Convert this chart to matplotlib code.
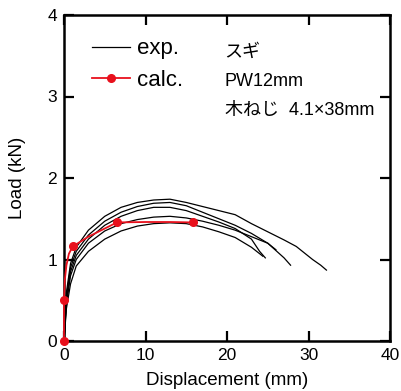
import matplotlib
matplotlib.use("Agg")
import matplotlib.pyplot as plt
from matplotlib.lines import Line2D

# Experimental curves (Displacement mm, Load kN)
exp1_x = [0, 0.3, 0.8, 1.5, 3, 5, 7, 9, 11, 13, 15, 17, 19, 21, 23, 25, 27, 28.5, 29.5, 30.5, 31.5, 32.2]
exp1_y = [0, 0.6, 0.95, 1.15, 1.36, 1.53, 1.64, 1.70, 1.73, 1.74, 1.70, 1.65, 1.60, 1.55, 1.44, 1.34, 1.24, 1.16, 1.08, 1.00, 0.93, 0.87]
exp2_x = [0, 0.3, 0.8, 1.5, 3, 5, 7, 9, 11, 13, 15, 17, 19, 21, 23, 25, 27, 27.8]
exp2_y = [0, 0.55, 0.9, 1.1, 1.3, 1.47, 1.58, 1.65, 1.69, 1.70, 1.66, 1.58, 1.50, 1.42, 1.32, 1.20, 1.02, 0.93]
exp3_x = [0, 0.3, 0.8, 1.5, 3, 5, 7, 9, 11, 13, 15, 17, 19, 21, 23, 24, 24.7]
exp3_y = [0, 0.5, 0.85, 1.05, 1.25, 1.42, 1.53, 1.60, 1.64, 1.64, 1.60, 1.53, 1.46, 1.38, 1.25, 1.10, 1.02]
exp4_x = [0, 0.3, 0.8, 1.5, 3, 5, 7, 9, 11, 13, 15, 17, 19, 21, 23, 25, 26]
exp4_y = [0, 0.45, 0.8, 1.0, 1.2, 1.35, 1.44, 1.49, 1.52, 1.53, 1.51, 1.47, 1.42, 1.36, 1.28, 1.20, 1.12]
exp5_x = [0, 0.3, 0.8, 1.5, 3, 5, 7, 9, 11, 13, 15, 17, 19, 21, 23, 24.4]
exp5_y = [0, 0.4, 0.7, 0.92, 1.1, 1.25, 1.35, 1.41, 1.44, 1.45, 1.44, 1.40, 1.34, 1.27, 1.15, 1.04]

# Calculated curve and its characteristic points
calc_line_x = [0, 0, 0.1, 0.3, 0.6, 1.07, 3, 6.5, 10, 13, 15.8]
calc_line_y = [0, 0.5, 0.75, 0.93, 1.07, 1.16, 1.28, 1.455, 1.46, 1.46, 1.455]
calc_pts_x = [0, 0, 1.07, 6.5, 15.8]
calc_pts_y = [0, 0.5, 1.16, 1.455, 1.455]

x_ticks = [0, 10, 20, 30, 40]
y_ticks = [0, 1, 2, 3, 4]
annotations = ["スギ", "PW12mm", "木ねじ  4.1×38mm"]

plt.rcParams['font.family'] = ['Liberation Sans', 'DejaVu Sans']

fig = plt.figure(figsize=(4.01, 3.91), dpi=100)
ax = fig.add_axes([64/401, 50/391, 326/401, 326/391])

for xs, ys in [(exp1_x, exp1_y), (exp2_x, exp2_y), (exp3_x, exp3_y), (exp4_x, exp4_y), (exp5_x, exp5_y)]:
    ax.plot(xs, ys, color='black', lw=0.9, clip_on=False, zorder=3)

ax.plot(calc_line_x, calc_line_y, color='#e8101c', lw=1.3, clip_on=False, zorder=4)
ax.plot(calc_pts_x, calc_pts_y, 'o', color='#e8101c', ms=5.5, clip_on=False, zorder=5)

ax.set_xlim(0, 40)
ax.set_ylim(0, 4)
ax.set_xticks(x_ticks)
ax.set_yticks(y_ticks)
ax.tick_params(direction='in', length=7, width=1.6, labelsize=12.5, top=True, right=True, pad=5)
for s in ax.spines.values():
    s.set_linewidth(1.8)

ax.set_xlabel('Displacement (mm)', fontsize=13.5)
ax.set_ylabel('Load (kN)', fontsize=13.5)
ax.xaxis.set_label_coords(0.5, -0.12)
ax.xaxis.label.set_va('center')
ax.yaxis.set_label_coords(-0.144, 0.5)
ax.yaxis.label.set_va('center')

handles = [Line2D([], [], color='black', lw=0.9),
           Line2D([], [], color='#e8101c', lw=1.3, marker='o', ms=5.5)]
ax.legend(handles, ['exp.', 'calc.'], loc='upper left', bbox_to_anchor=(0.086, 0.928),
          frameon=False, fontsize=16, handlelength=1.7, handletextpad=0.32,
          labelspacing=0.47, borderpad=0, borderaxespad=0)

for i, t in enumerate(annotations):
    ax.text(19.7, 3.546 - i * 0.358, t, fontsize=13, va='center', ha='left',
            family=['Liberation Sans', 'Noto Sans CJK JP'])

fig.savefig('out.png', dpi=100)
